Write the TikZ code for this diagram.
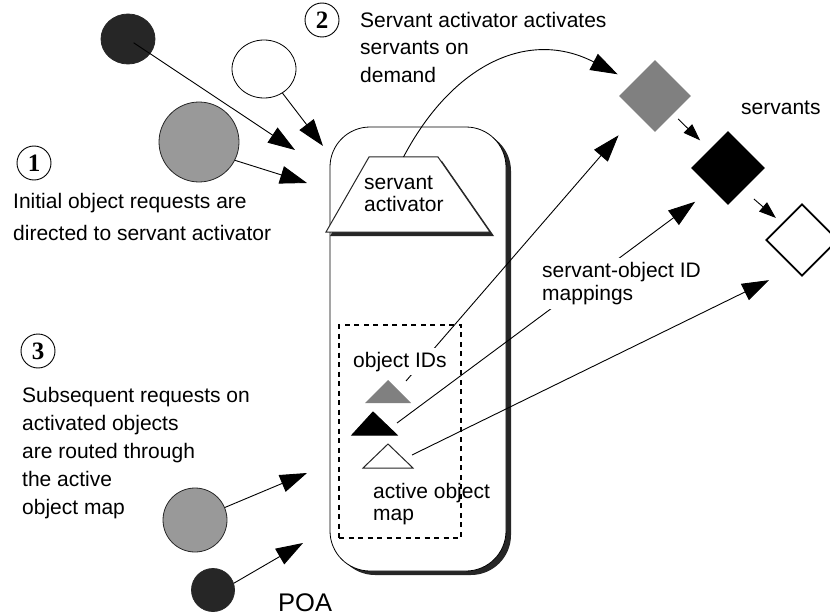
\documentclass[tikz,border=0pt]{standalone}
\usepackage{fontspec}
\setmainfont{Liberation Sans}
\newfontfamily\numfont{Liberation Serif}
\usetikzlibrary{arrows.meta,shapes.geometric,shadows}
\definecolor{darkc}{HTML}{262626}
\definecolor{grayc}{HTML}{999999}
\definecolor{midgray}{HTML}{808080}
\begin{document}
\begin{tikzpicture}[x=1pt,y=-1pt,
  lbl/.style={inner sep=0pt, align=left, anchor=north west},
  arr/.style={-{Triangle[length=27pt,width=18pt]}, line width=0.9pt},
  sarr/.style={-{Triangle[length=17pt,width=12pt]}, line width=0.9pt},
  ball/.style={circle, inner sep=0pt, line width=0.8pt},
  oval/.style={ellipse, inner sep=0pt, line width=0.8pt},
  dia/.style={diamond, inner sep=0pt, aspect=1},
  num/.style={circle, draw, line width=0.9pt, minimum size=34pt, inner sep=0pt, font=\numfont\bfseries\fontsize{25}{25}\selectfont},
  tri/.style={line width=1pt, line join=miter},
]
\useasboundingbox (0,0) rectangle (830,615);

% POA box with shadow
\node[draw, rounded corners=40pt, minimum width=176pt, minimum height=444pt, fill=white, line width=0.8pt,
  drop shadow={shadow xshift=5pt, shadow yshift=-4pt, fill=darkc, opacity=1}] (poa) at (418,349) {};

% active object map (dashed)
\node[draw, line width=2.2pt, dash pattern=on 5pt off 4.5pt, minimum width=122pt, minimum height=213pt, inner sep=0pt] (aom) at (400,431.5) {};

% servant activator trapezoid
\fill[darkc] (373,161) -- (442,161) -- (494,236) -- (330,236) -- cycle;
\draw[fill=white, draw=darkc, line width=1pt] (369,157) -- (438,157) -- (490,232) -- (326,232) -- cycle;
\coordinate (satop) at (403.5,157);
\node[lbl, font=\fontsize{21}{22}\selectfont] (satext) at (364,176) {servant\\activator};

% object ID triangles
\fill[midgray] (388,380) -- (411,403) -- (365,403) -- cycle;
\draw[tri, fill=black] (373,412) -- (397,435) -- (352,435) -- cycle;
\draw[tri, fill=white, draw=darkc] (388,444) -- (413,468) -- (363,468) -- cycle;
\coordinate (tgs) at (406,381);
\coordinate (tbs) at (397,423);
\coordinate (tws) at (412,455);

\node[lbl, font=\fontsize{21}{22}\selectfont] (aomtext) at (373,483) {active object\\map};

% servants (diamonds)
\node[dia, fill=midgray, minimum size=72pt] (gd) at (655,96) {};
\node[dia, fill=black, minimum size=74pt] (bd) at (728,168) {};
\node[dia, draw=black, fill=white, line width=1.8pt, minimum size=72pt] (wd) at (802,240) {};
\node[anchor=base west, inner sep=0pt, font=\fontsize{21}{23}\selectfont] (servlbl) at (741,115) {servants};

\draw[sarr, shorten <=7pt, shorten >=13pt] (gd.south east) -- (bd.north west);
\draw[sarr, shorten <=14pt, shorten >=8pt] (bd.-55) -- (wd.140);

% activation curve
\draw[arr, shorten >=17pt] (satop) .. controls (452,65) and (528,28) .. (gd.148);

% mapping lines
\draw[arr, shorten >=28pt] (tgs) -- (gd.south west);
\draw[arr, shorten >=21pt] (tbs) -- (bd.233);
\draw[arr, shorten >=27pt] (tws) -- (wd.253);

% labels that cover lines
\node[anchor=base west, inner sep=4pt, fill=white, font=\fontsize{21}{23}\selectfont] (oidlbl) at (349,367) {object IDs};
\node[lbl, inner sep=4pt, fill=white, font=\fontsize{21}{23}\selectfont] (somlbl) at (538,258) {servant-object ID\\mappings};

% client objects (top)
\node[oval, fill=darkc, draw=darkc, minimum width=54pt, minimum height=50pt] (c1) at (128,39) {};
\node[oval, fill=white, draw=black, minimum width=64pt, minimum height=58pt] (c2) at (264,69) {};
\node[ball, fill=grayc, draw=darkc, minimum size=80pt] (c3) at (199,142) {};
\coordinate (t1) at (295,150);
\coordinate (t2) at (323,146);
\coordinate (t3) at (307,183);
\draw[arr, shorten <=-20pt] (c1) -- (t1);
\draw[arr] (c2) -- (t2);
\draw[arr] (c3.-27) -- (t3);

% client objects (bottom)
\node[ball, fill=grayc, draw=darkc, minimum size=64pt] (c4) at (195,520) {};
\node[ball, fill=darkc, draw=darkc, minimum size=43pt] (c5) at (213,590) {};
\coordinate (t4) at (307,473);
\coordinate (t5) at (303,543);
\draw[arr] (c4) -- (t4);
\draw[arr] (c5.18) -- (t5);

% step numbers and texts
\node[num] (n1) at (34,163) {1};
\node[num] (n2) at (322,20) {2};
\node[num] (n3) at (38,351) {3};

\node[lbl, font=\fontsize{21}{27.5}\selectfont] (txt2) at (360,11.7) {Servant activator activates\\servants on\\demand};
\node[lbl, font=\fontsize{21}{32}\selectfont] (txt1) at (13,193) {Initial object requests are\\directed to servant activator};
\node[lbl, font=\fontsize{21}{28}\selectfont] (txt3) at (22,386.7) {Subsequent requests on\\activated objects\\are routed through\\the active\\object map};

\node[anchor=base west, inner sep=0pt, text depth=0pt, font=\fontsize{25.5}{28}\selectfont] (poalbl) at (278,611) {POA};
\end{tikzpicture}
\end{document}
